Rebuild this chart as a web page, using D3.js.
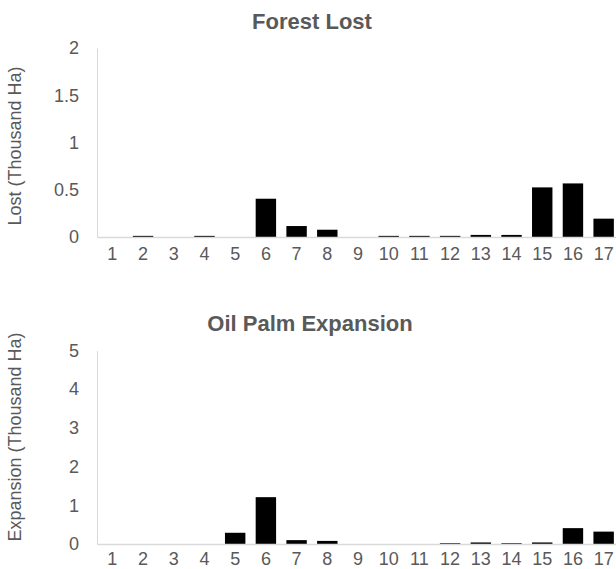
<!DOCTYPE html>
<html>
<head>
<meta charset="utf-8">
<script src="https://cdn.jsdelivr.net/npm/d3@7"></script>
<style>
  html, body { margin: 0; padding: 0; background: #fff; }
  svg { display: block; font-family: "Liberation Sans", Arial, sans-serif; }
</style>
</head>
<body>
<svg id="chart" width="616" height="569"></svg>
<script>
// Categories shared by both panels
const categories = ["1","2","3","4","5","6","7","8","9","10","11","12","13","14","15","16","17"];

// Forest lost per category (thousand ha)
const forestLost = [0, 0.012, 0, 0.012, 0, 0.405, 0.116, 0.077, 0, 0.012, 0.012, 0.012, 0.022, 0.022, 0.525, 0.567, 0.194];
const forestTicks = [0, 0.5, 1, 1.5, 2];

// Oil palm expansion per category (thousand ha)
const palmExpansion = [0, 0, 0, 0, 0.29, 1.21, 0.10, 0.08, 0, 0, 0, 0.02, 0.04, 0.02, 0.04, 0.41, 0.32];
const palmTicks = [0, 1, 2, 3, 4, 5];

const textColor = "#595959";
const axisColor = "#d9d9d9";
const fontStack = "'Liberation Sans', Arial, sans-serif";

const svg = d3.select("#chart");

const x = d3.scaleBand()
  .domain(categories)
  .range([97, 619])
  .paddingInner(0.335)
  .paddingOuter(0.1675);

function panel(cfg) {
  const y = d3.scaleLinear().domain([0, cfg.max]).range([cfg.bottom, cfg.top]);
  const g = svg.append("g");

  // Title
  g.append("text")
    .attr("x", cfg.titleX)
    .attr("y", cfg.titleY)
    .attr("text-anchor", "middle")
    .attr("dominant-baseline", "central")
    .attr("font-size", 22)
    .attr("font-weight", "bold")
    .attr("fill", textColor)
    .text(cfg.title);

  // Y axis
  const yAxis = g.append("g")
    .attr("transform", `translate(${x.range()[0]},0)`)
    .call(d3.axisLeft(y).tickValues(cfg.ticks).tickSize(0).tickPadding(18).tickFormat(d3.format("")));
  yAxis.select(".domain").attr("stroke", axisColor).attr("stroke-width", 1);
  yAxis.selectAll("text")
    .attr("font-size", 18)
    .attr("fill", textColor)
    .attr("font-family", fontStack);

  // Bars
  g.selectAll("rect.bar")
    .data(cfg.values)
    .join("rect")
    .attr("class", "bar")
    .attr("x", (d, i) => x(categories[i]))
    .attr("width", x.bandwidth())
    .attr("y", d => y(d))
    .attr("height", d => y(0) - y(d))
    .attr("fill", "#000");

  // X axis (category baseline)
  const xAxis = g.append("g")
    .attr("transform", `translate(0,${y(0)})`)
    .call(d3.axisBottom(x).tickSize(0).tickPadding(cfg.xPad));
  xAxis.select(".domain").attr("stroke", axisColor).attr("stroke-width", 1.5);
  xAxis.selectAll("text")
    .attr("font-size", 18)
    .attr("fill", textColor)
    .attr("font-family", fontStack);

  // Y axis title
  g.append("text")
    .attr("transform", `translate(${cfg.labelX},${cfg.labelY}) rotate(-90)`)
    .attr("text-anchor", "middle")
    .attr("dominant-baseline", "central")
    .attr("font-size", 18)
    .attr("fill", textColor)
    .text(cfg.yLabel);
}

panel({
  title: "Forest Lost", titleX: 312, titleY: 21,
  values: forestLost, ticks: forestTicks, max: 2,
  top: 48, bottom: 237, xPad: 10,
  yLabel: "Lost (Thousand Ha)", labelX: 15, labelY: 146
});

panel({
  title: "Oil Palm Expansion", titleX: 310, titleY: 323,
  values: palmExpansion, ticks: palmTicks, max: 5,
  top: 350.5, bottom: 544, xPad: 8,
  yLabel: "Expansion (Thousand Ha)", labelX: 15, labelY: 437
});
</script>
</body>
</html>
